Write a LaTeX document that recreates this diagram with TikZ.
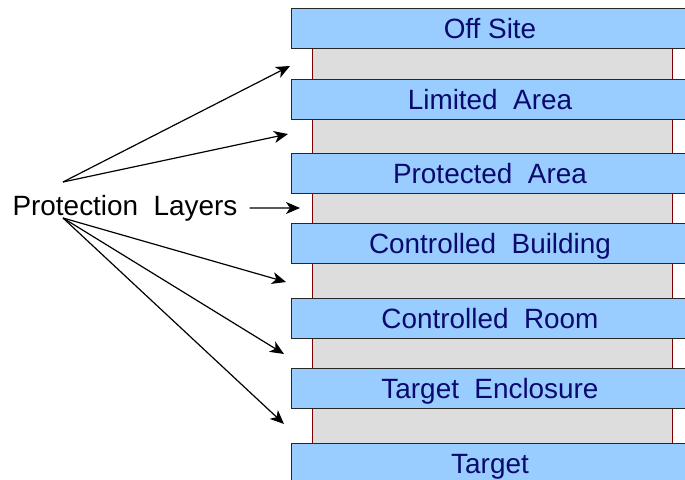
\documentclass[tikz,border=0pt]{standalone}
\usepackage{fontspec}
\setmainfont{Liberation Sans}
\usetikzlibrary{arrows.meta}
\definecolor{layerblue}{HTML}{99CCFF}
\definecolor{layertext}{HTML}{0A0A6E}
\definecolor{corefill}{HTML}{DDDDDD}
\definecolor{wallred}{HTML}{800000}
\tikzset{
  layer/.style={draw=black!85, line width=0.9pt, fill=layerblue, text=layertext,
    minimum width=398bp, minimum height=40bp, inner sep=0pt,
    text height=21bp, text depth=0pt,
    font=\fontsize{28}{32}\selectfont},
  pointer/.style={draw=black, line width=1.2pt,
    -{Stealth[length=14bp, width=12bp, inset=4bp]}},
  label/.style={inner sep=0pt, text height=21bp, text depth=0pt,
    font=\fontsize{28}{32}\selectfont}
}
\begin{document}
\begin{tikzpicture}[x=1bp, y=-1bp]
  \clip (0,0) rectangle (685,480);
  % grey core between the layers, bounded by thin red walls
  \fill[corefill] (312,40) rectangle (672,450);
  \draw[wallred, line width=0.8pt] (312,40) -- (312,450);
  \draw[wallred, line width=0.8pt] (672,40) -- (672,450);
  % the protection layers
  \node[layer] (b1) at (490,28)    {Off Site};
  \node[layer] (b2) at (490,99)    {Limited\ \ Area};
  \node[layer] (b3) at (490,173)   {Protected\ \ Area};
  \node[layer] (b4) at (490,243.5) {Controlled\ \ Building};
  \node[layer] (b5) at (490,318)   {Controlled\ \ Room};
  \node[layer] (b6) at (490,388)   {Target\ \ Enclosure};
  \node[layer] (b7) at (490,463)   {Target};
  % caption and its pointers into the gaps
  \node[label] (pl) at (125,205.5) {Protection\ \ Layers};
  \coordinate (up)  at (63,182);
  \coordinate (dn)  at (63,218);
  \coordinate (g1)  at (290,66);
  \coordinate (g2)  at (288,134);
  \coordinate (g3)  at (300,208);
  \coordinate (g4)  at (286,282);
  \coordinate (g5)  at (284,354);
  \coordinate (g6)  at (284,424);
  \draw[pointer] (up) -- (g1);
  \draw[pointer] (up) -- (g2);
  \draw[pointer] (pl.east) ++(12,2.5) -- (g3);
  \draw[pointer] (dn) -- (g4);
  \draw[pointer] (dn) -- (g5);
  \draw[pointer] (dn) -- (g6);
\end{tikzpicture}
\end{document}
